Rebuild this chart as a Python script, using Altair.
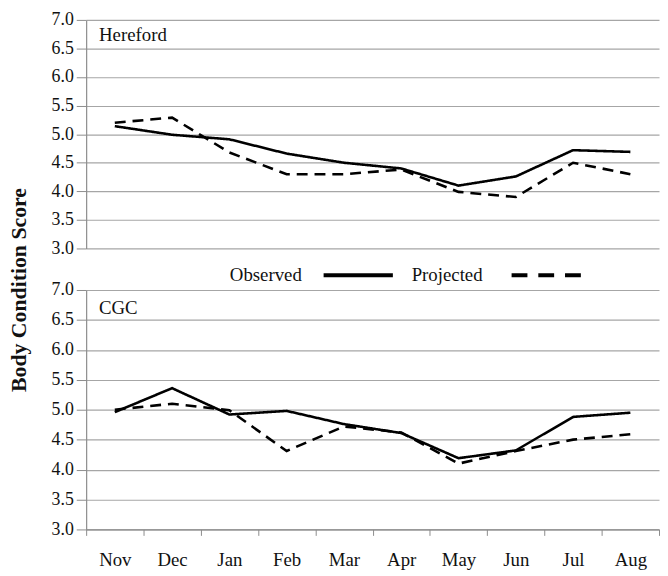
import altair as alt
import pandas as pd

months = ["Nov", "Dec", "Jan", "Feb", "Mar", "Apr", "May", "Jun", "Jul", "Aug"]
hereford_observed = [5.14, 4.99, 4.91, 4.66, 4.50, 4.40, 4.10, 4.26, 4.72, 4.69]
hereford_projected = [5.20, 5.29, 4.68, 4.30, 4.30, 4.38, 3.99, 3.90, 4.50, 4.30]
cgc_observed = [4.96, 5.36, 4.92, 4.98, 4.76, 4.61, 4.19, 4.32, 4.88, 4.95]
cgc_projected = [5.00, 5.10, 4.99, 4.31, 4.72, 4.62, 4.10, 4.31, 4.50, 4.59]
series_names = ["Observed", "Projected"]
y_ticks = [3.0, 3.5, 4.0, 4.5, 5.0, 5.5, 6.0, 6.5, 7.0]

def frame(obs, proj):
    rows = []
    for m, o, p in zip(months, obs, proj):
        rows.append({"Month": m, "Series": series_names[0], "BCS": o})
        rows.append({"Month": m, "Series": series_names[1], "BCS": p})
    return pd.DataFrame(rows)

FONT = "Liberation Serif"
W = 579
DASH = [11, 7]

def legend_layers():
    # legend drawn above the lower panel: label, then a sample of the line
    one = pd.DataFrame({"t": [series_names[0]]})
    two = pd.DataFrame({"t": [series_names[1]]})
    ly = -15
    t1 = alt.Chart(one).mark_text(align="right", baseline="middle", font=FONT,
                                  fontSize=19, color="#111").encode(
        text="t:N", x=alt.value(218), y=alt.value(ly))
    r1 = alt.Chart(one).mark_rule(color="black", strokeWidth=4).encode(
        x=alt.value(240), x2=alt.value(310), y=alt.value(ly))
    t2 = alt.Chart(two).mark_text(align="left", baseline="middle", font=FONT,
                                  fontSize=19, color="#111").encode(
        text="t:N", x=alt.value(329), y=alt.value(ly))
    r2 = alt.Chart(two).mark_rule(color="black", strokeWidth=4,
                                  strokeDash=[16, 11]).encode(
        x=alt.value(430), x2=alt.value(500), y=alt.value(ly))
    return [t1, r1, t2, r2]

def panel(df, label, height, show_x, with_legend, label_y):
    if show_x:
        xaxis = alt.Axis(
            title=None, labelAngle=0, tickBand="extent",
            labelFontSize=19, labelPadding=15, tickSize=6,
            labelFont=FONT, labelColor="#111",
        )
    else:
        xaxis = None
    lines = alt.Chart(df).mark_line(color="black", strokeWidth=2.6).encode(
        x=alt.X("Month:N", sort=months,
                scale=alt.Scale(type="band", paddingInner=0, paddingOuter=0),
                axis=xaxis),
        y=alt.Y("BCS:Q", scale=alt.Scale(domain=[3, 7], nice=False, zero=False),
                axis=alt.Axis(title=None, values=y_ticks, format=".1f",
                              labelFontSize=18, labelFont=FONT, labelColor="#111",
                              tickSize=10, labelPadding=3)),
        strokeDash=alt.StrokeDash(
            "Series:N",
            scale=alt.Scale(domain=series_names, range=[[1, 0], DASH]),
            legend=None,
        ),
    )
    txt = alt.Chart(pd.DataFrame({"t": [label]})).mark_text(
        align="left", baseline="middle", font=FONT, fontSize=19, color="#111"
    ).encode(text="t:N", x=alt.value(13), y=alt.value(label_y))
    layers = [lines, txt]
    if with_legend:
        layers += legend_layers()
    return alt.layer(*layers).properties(width=W, height=height)

top = panel(frame(hereford_observed, hereford_projected), "Hereford", 231, False, False, 15)
bottom = panel(frame(cgc_observed, cgc_projected), "CGC", 242, True, True, 18)

chart = alt.vconcat(top, bottom, spacing=42, bounds="flush").properties(
    title=alt.TitleParams(
        "Body Condition Score", orient="left", anchor="middle",
        font=FONT, fontSize=22, fontWeight="bold", color="#111", offset=20,
    ),
    padding={"left": 0, "top": 0, "right": 0, "bottom": 0},
).configure(font=FONT).configure_view(stroke=None).configure_axis(
    gridColor="#a6a6a6", gridWidth=1.2, domainColor="#8c8c8c",
    tickColor="#8c8c8c", domainWidth=1.2,
).configure_axisX(grid=False).configure_axisY(grid=True, domain=True)

chart.save("out.html", embed_options={"renderer": "svg", "actions": False})
